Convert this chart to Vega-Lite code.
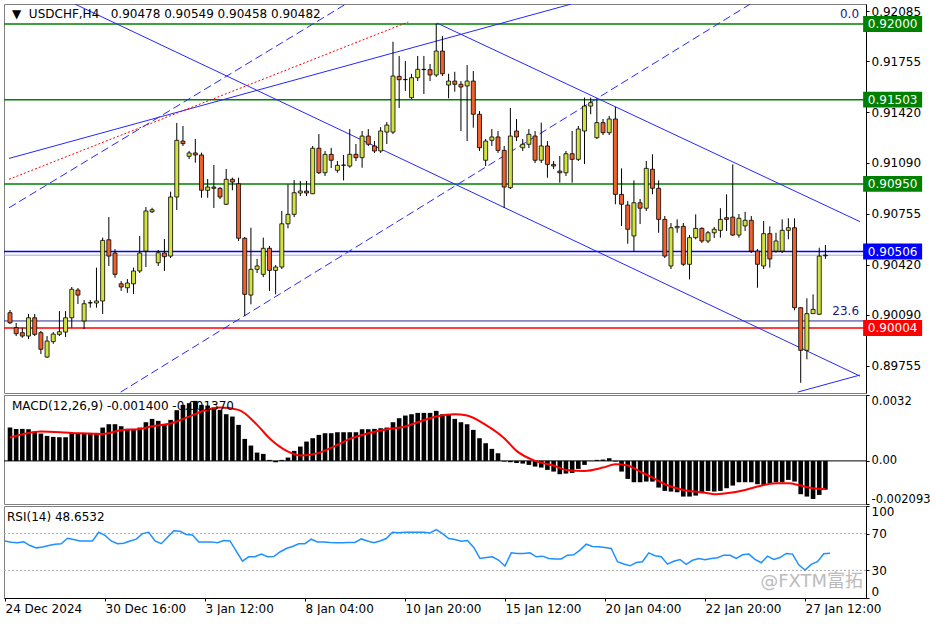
{
"$schema": "https://vega.github.io/schema/vega-lite/v6.json",
"background": "#ffffff",
"padding": {"left": 2, "top": 3, "right": 0, "bottom": 0},
"spacing": 2,
"bounds": "flush",
"datasets": {
"bars": [
{"i":0,"o":0.90104,"h":0.90122,"l":0.9003,"c":0.90038,"m":0.001619,"r":62},
{"i":1,"o":0.90006,"h":0.90037,"l":0.89951,"c":0.89966,"m":0.001554,"r":60.5},
{"i":2,"o":0.89973,"h":0.90006,"l":0.8994,"c":0.89951,"m":0.001554,"r":60},
{"i":3,"o":0.89951,"h":0.90096,"l":0.89931,"c":0.90071,"m":0.001538,"r":61},
{"i":4,"o":0.90071,"h":0.90096,"l":0.89951,"c":0.89962,"m":0.001425,"r":57},
{"i":5,"o":0.89973,"h":0.89984,"l":0.89833,"c":0.89864,"m":0.001328,"r":54.5},
{"i":6,"o":0.89813,"h":0.89951,"l":0.89807,"c":0.89918,"m":0.001214,"r":55.5},
{"i":7,"o":0.89914,"h":0.89977,"l":0.899,"c":0.89964,"m":0.001166,"r":57},
{"i":8,"o":0.89962,"h":0.90115,"l":0.89951,"c":0.89979,"m":0.001149,"r":58.5},
{"i":9,"o":0.89977,"h":0.90115,"l":0.89944,"c":0.90071,"m":0.001149,"r":59},
{"i":10,"o":0.90071,"h":0.90273,"l":0.90006,"c":0.90258,"m":0.00136,"r":65},
{"i":11,"o":0.90253,"h":0.90266,"l":0.90161,"c":0.9022,"m":0.00136,"r":63.5},
{"i":12,"o":0.9005,"h":0.90187,"l":0.89997,"c":0.90163,"m":0.00136,"r":62},
{"i":13,"o":0.9017,"h":0.90187,"l":0.90137,"c":0.90168,"m":0.00136,"r":62},
{"i":14,"o":0.90168,"h":0.904,"l":0.90137,"c":0.90181,"m":0.00136,"r":62},
{"i":15,"o":0.90181,"h":0.90597,"l":0.90096,"c":0.90579,"m":0.001619,"r":71.4},
{"i":16,"o":0.90583,"h":0.90732,"l":0.90411,"c":0.90476,"m":0.001781,"r":68},
{"i":17,"o":0.90496,"h":0.90522,"l":0.90334,"c":0.90356,"m":0.001781,"r":62},
{"i":18,"o":0.90294,"h":0.90312,"l":0.90247,"c":0.90273,"m":0.001684,"r":59},
{"i":19,"o":0.90268,"h":0.90325,"l":0.90235,"c":0.90299,"m":0.001554,"r":59.5},
{"i":20,"o":0.90294,"h":0.904,"l":0.90227,"c":0.90378,"m":0.001554,"r":62},
{"i":21,"o":0.90378,"h":0.90608,"l":0.90365,"c":0.90496,"m":0.001619,"r":64},
{"i":22,"o":0.90509,"h":0.90798,"l":0.90404,"c":0.90772,"m":0.001878,"r":70},
{"i":23,"o":0.90767,"h":0.90793,"l":0.90759,"c":0.9078,"m":0.00204,"r":71.4},
{"i":24,"o":0.90432,"h":0.90516,"l":0.90411,"c":0.90498,"m":0.001943,"r":62},
{"i":25,"o":0.90496,"h":0.90588,"l":0.90378,"c":0.90472,"m":0.001781,"r":59},
{"i":26,"o":0.90476,"h":0.90899,"l":0.90463,"c":0.90864,"m":0.001991,"r":66},
{"i":27,"o":0.90864,"h":0.9135,"l":0.90778,"c":0.91236,"m":0.002461,"r":73},
{"i":28,"o":0.91231,"h":0.9133,"l":0.91199,"c":0.91214,"m":0.00272,"r":72.5},
{"i":29,"o":0.91131,"h":0.91166,"l":0.91113,"c":0.91153,"m":0.002801,"r":69},
{"i":30,"o":0.91153,"h":0.91245,"l":0.91089,"c":0.9114,"m":0.002914,"r":68.5},
{"i":31,"o":0.9114,"h":0.91155,"l":0.90859,"c":0.90908,"m":0.00272,"r":61},
{"i":32,"o":0.90908,"h":0.90982,"l":0.90859,"c":0.90929,"m":0.002688,"r":61},
{"i":33,"o":0.90929,"h":0.91074,"l":0.90792,"c":0.90921,"m":0.00259,"r":61},
{"i":34,"o":0.90921,"h":0.90929,"l":0.90851,"c":0.90864,"m":0.002477,"r":60},
{"i":35,"o":0.90816,"h":0.91048,"l":0.90811,"c":0.9098,"m":0.002267,"r":62.5},
{"i":36,"o":0.9098,"h":0.90991,"l":0.90908,"c":0.90962,"m":0.002153,"r":62},
{"i":37,"o":0.90951,"h":0.90991,"l":0.90575,"c":0.90593,"m":0.001749,"r":51},
{"i":38,"o":0.90593,"h":0.90601,"l":0.90082,"c":0.90225,"m":0.001069,"r":40},
{"i":39,"o":0.9022,"h":0.90662,"l":0.90159,"c":0.90389,"m":0.000745,"r":44.8},
{"i":40,"o":0.90389,"h":0.90457,"l":0.90365,"c":0.90411,"m":0.000405,"r":44.8},
{"i":41,"o":0.90356,"h":0.90597,"l":0.90338,"c":0.90527,"m":0.00034,"r":47.7},
{"i":42,"o":0.90527,"h":0.90542,"l":0.90247,"c":0.90382,"m":0.000049,"r":44.8},
{"i":43,"o":0.90382,"h":0.90417,"l":0.90225,"c":0.90404,"m":-0.000065,"r":45},
{"i":44,"o":0.90404,"h":0.90772,"l":0.90391,"c":0.90688,"m":0.000049,"r":50},
{"i":45,"o":0.90688,"h":0.90947,"l":0.90658,"c":0.9075,"m":0.000162,"r":53.8},
{"i":46,"o":0.9075,"h":0.90975,"l":0.90732,"c":0.90892,"m":0.000486,"r":56},
{"i":47,"o":0.9089,"h":0.90969,"l":0.9087,"c":0.90903,"m":0.000696,"r":59},
{"i":48,"o":0.90903,"h":0.90969,"l":0.9087,"c":0.9089,"m":0.000939,"r":59},
{"i":49,"o":0.90885,"h":0.91199,"l":0.90883,"c":0.91184,"m":0.001101,"r":63.9},
{"i":50,"o":0.91184,"h":0.91277,"l":0.91015,"c":0.91023,"m":0.001263,"r":61},
{"i":51,"o":0.91023,"h":0.91166,"l":0.91002,"c":0.91144,"m":0.001344,"r":61},
{"i":52,"o":0.91144,"h":0.91187,"l":0.91054,"c":0.91105,"m":0.001344,"r":60.3},
{"i":53,"o":0.91039,"h":0.911,"l":0.91023,"c":0.91072,"m":0.001392,"r":60},
{"i":54,"o":0.91072,"h":0.9114,"l":0.90973,"c":0.91074,"m":0.001392,"r":60},
{"i":55,"o":0.91067,"h":0.9131,"l":0.91056,"c":0.91144,"m":0.001392,"r":60.3},
{"i":56,"o":0.91144,"h":0.91212,"l":0.911,"c":0.91122,"m":0.001392,"r":60.3},
{"i":57,"o":0.91122,"h":0.91297,"l":0.91056,"c":0.91264,"m":0.001538,"r":64.2},
{"i":58,"o":0.91264,"h":0.9131,"l":0.91199,"c":0.9121,"m":0.001538,"r":62},
{"i":59,"o":0.91199,"h":0.91231,"l":0.91153,"c":0.91166,"m":0.001554,"r":60},
{"i":60,"o":0.91166,"h":0.91323,"l":0.91153,"c":0.91297,"m":0.001587,"r":62},
{"i":61,"o":0.9129,"h":0.91356,"l":0.91212,"c":0.91336,"m":0.001619,"r":64.6},
{"i":62,"o":0.9129,"h":0.91883,"l":0.91277,"c":0.91658,"m":0.001878,"r":71.4},
{"i":63,"o":0.91656,"h":0.9179,"l":0.91448,"c":0.91634,"m":0.002072,"r":71},
{"i":64,"o":0.91634,"h":0.91757,"l":0.9156,"c":0.91636,"m":0.002202,"r":71.4},
{"i":65,"o":0.91516,"h":0.91672,"l":0.91507,"c":0.91647,"m":0.002267,"r":71.4},
{"i":66,"o":0.91647,"h":0.9179,"l":0.91625,"c":0.91702,"m":0.002331,"r":71.4},
{"i":67,"o":0.91702,"h":0.9179,"l":0.9154,"c":0.917,"m":0.002331,"r":71.4},
{"i":68,"o":0.917,"h":0.91737,"l":0.91625,"c":0.91665,"m":0.002331,"r":70.7},
{"i":69,"o":0.91665,"h":0.92002,"l":0.91652,"c":0.91822,"m":0.002429,"r":74.3},
{"i":70,"o":0.91822,"h":0.91921,"l":0.91658,"c":0.91673,"m":0.002267,"r":70},
{"i":71,"o":0.91599,"h":0.91673,"l":0.91512,"c":0.91625,"m":0.002234,"r":64.6},
{"i":72,"o":0.91625,"h":0.91686,"l":0.91555,"c":0.91604,"m":0.00204,"r":63.5},
{"i":73,"o":0.91604,"h":0.91625,"l":0.91297,"c":0.91586,"m":0.001878,"r":61.7},
{"i":74,"o":0.91593,"h":0.9173,"l":0.91231,"c":0.91625,"m":0.001781,"r":62.5},
{"i":75,"o":0.91625,"h":0.91691,"l":0.91319,"c":0.91407,"m":0.001506,"r":55},
{"i":76,"o":0.91407,"h":0.91428,"l":0.91166,"c":0.91187,"m":0.001101,"r":43},
{"i":77,"o":0.91105,"h":0.91245,"l":0.91067,"c":0.91231,"m":0.000858,"r":44},
{"i":78,"o":0.91236,"h":0.9131,"l":0.91199,"c":0.91258,"m":0.000583,"r":44.8},
{"i":79,"o":0.91258,"h":0.91297,"l":0.91153,"c":0.9117,"m":0.000372,"r":41},
{"i":80,"o":0.9117,"h":0.91199,"l":0.90792,"c":0.90929,"m":-0.000032,"r":34.7},
{"i":81,"o":0.90925,"h":0.91448,"l":0.90916,"c":0.91264,"m":-0.000065,"r":49.1},
{"i":82,"o":0.91297,"h":0.91376,"l":0.91231,"c":0.91258,"m":-0.000097,"r":48.5},
{"i":83,"o":0.91187,"h":0.91245,"l":0.91166,"c":0.9121,"m":-0.00013,"r":48.4},
{"i":84,"o":0.9121,"h":0.9131,"l":0.91185,"c":0.91275,"m":-0.000194,"r":49.1},
{"i":85,"o":0.91264,"h":0.91297,"l":0.91087,"c":0.91105,"m":-0.000275,"r":44.8},
{"i":86,"o":0.91105,"h":0.91352,"l":0.91087,"c":0.91199,"m":-0.000324,"r":45.5},
{"i":87,"o":0.91199,"h":0.91231,"l":0.9099,"c":0.91078,"m":-0.000437,"r":43},
{"i":88,"o":0.91078,"h":0.911,"l":0.91048,"c":0.91067,"m":-0.000518,"r":42.3},
{"i":89,"o":0.91034,"h":0.91133,"l":0.90958,"c":0.91023,"m":-0.000648,"r":42.5},
{"i":90,"o":0.91023,"h":0.91166,"l":0.91002,"c":0.91148,"m":-0.000615,"r":46.6},
{"i":91,"o":0.91148,"h":0.91297,"l":0.90958,"c":0.91111,"m":-0.000583,"r":47},
{"i":92,"o":0.91111,"h":0.9133,"l":0.911,"c":0.9131,"m":-0.000389,"r":52},
{"i":93,"o":0.91297,"h":0.91516,"l":0.9108,"c":0.91461,"m":-0.000194,"r":58.5},
{"i":94,"o":0.91461,"h":0.91516,"l":0.91407,"c":0.91483,"m":-0.00001,"r":56},
{"i":95,"o":0.91253,"h":0.91505,"l":0.91245,"c":0.91352,"m":0.000049,"r":55.6},
{"i":96,"o":0.91352,"h":0.91376,"l":0.91271,"c":0.91286,"m":0.000065,"r":55},
{"i":97,"o":0.91286,"h":0.91396,"l":0.91271,"c":0.91376,"m":0.00013,"r":53.8},
{"i":98,"o":0.91376,"h":0.91455,"l":0.90816,"c":0.90881,"m":-0.000032,"r":39.4},
{"i":99,"o":0.90881,"h":0.91052,"l":0.90673,"c":0.90816,"m":-0.000518,"r":37},
{"i":100,"o":0.90811,"h":0.90837,"l":0.90557,"c":0.90652,"m":-0.000874,"r":35},
{"i":101,"o":0.90608,"h":0.90973,"l":0.90509,"c":0.90826,"m":-0.001036,"r":38.5},
{"i":102,"o":0.90826,"h":0.90851,"l":0.90686,"c":0.9079,"m":-0.001036,"r":39.4},
{"i":103,"o":0.9079,"h":0.911,"l":0.90772,"c":0.91052,"m":-0.001004,"r":49.1},
{"i":104,"o":0.91046,"h":0.91144,"l":0.90882,"c":0.90921,"m":-0.001004,"r":46},
{"i":105,"o":0.90921,"h":0.90973,"l":0.90629,"c":0.90717,"m":-0.001295,"r":44.8},
{"i":106,"o":0.90717,"h":0.90739,"l":0.90463,"c":0.90476,"m":-0.001457,"r":36.8},
{"i":107,"o":0.90411,"h":0.90693,"l":0.90391,"c":0.90662,"m":-0.001489,"r":40},
{"i":108,"o":0.90662,"h":0.90717,"l":0.90629,"c":0.90671,"m":-0.001522,"r":41.9},
{"i":109,"o":0.90671,"h":0.90693,"l":0.90411,"c":0.90422,"m":-0.001732,"r":36.5},
{"i":110,"o":0.90422,"h":0.90614,"l":0.90323,"c":0.90597,"m":-0.001732,"r":41},
{"i":111,"o":0.90597,"h":0.9075,"l":0.90586,"c":0.90658,"m":-0.001684,"r":43},
{"i":112,"o":0.90658,"h":0.90665,"l":0.90562,"c":0.90575,"m":-0.00157,"r":41.5},
{"i":113,"o":0.90575,"h":0.90641,"l":0.90562,"c":0.90629,"m":-0.001457,"r":43},
{"i":114,"o":0.90629,"h":0.90667,"l":0.90595,"c":0.90652,"m":-0.001489,"r":43.7},
{"i":115,"o":0.90645,"h":0.9079,"l":0.90597,"c":0.90717,"m":-0.001457,"r":46.6},
{"i":116,"o":0.90728,"h":0.90881,"l":0.90641,"c":0.90717,"m":-0.001328,"r":46.5},
{"i":117,"o":0.90732,"h":0.91078,"l":0.90608,"c":0.90614,"m":-0.001198,"r":43},
{"i":118,"o":0.90614,"h":0.90752,"l":0.90597,"c":0.90724,"m":-0.001036,"r":47},
{"i":119,"o":0.90674,"h":0.90767,"l":0.90641,"c":0.90711,"m":-0.001036,"r":47.7},
{"i":120,"o":0.90711,"h":0.90739,"l":0.90496,"c":0.90509,"m":-0.001036,"r":42},
{"i":121,"o":0.90509,"h":0.90522,"l":0.90268,"c":0.90422,"m":-0.001133,"r":38.3},
{"i":122,"o":0.90411,"h":0.90706,"l":0.90391,"c":0.90623,"m":-0.001166,"r":45.5},
{"i":123,"o":0.90623,"h":0.90671,"l":0.904,"c":0.90457,"m":-0.001085,"r":42},
{"i":124,"o":0.90509,"h":0.90629,"l":0.90498,"c":0.90575,"m":-0.001036,"r":44},
{"i":125,"o":0.90509,"h":0.90717,"l":0.90496,"c":0.90645,"m":-0.001036,"r":48.4},
{"i":126,"o":0.90645,"h":0.90724,"l":0.90586,"c":0.90662,"m":-0.000923,"r":47.7},
{"i":127,"o":0.90662,"h":0.90724,"l":0.9012,"c":0.90137,"m":-0.001004,"r":36},
{"i":128,"o":0.90137,"h":0.90141,"l":0.89644,"c":0.89857,"m":-0.001619,"r":30.4},
{"i":129,"o":0.89857,"h":0.90199,"l":0.89798,"c":0.90098,"m":-0.001732,"r":36.5},
{"i":130,"o":0.90098,"h":0.90225,"l":0.90096,"c":0.90126,"m":-0.001846,"r":39.4},
{"i":131,"o":0.90094,"h":0.90531,"l":0.90089,"c":0.90476,"m":-0.001651,"r":48},
{"i":132,"o":0.90478,"h":0.90549,"l":0.90458,"c":0.90482,"m":-0.0014,"r":48.65}
],
"sig": [
{"i":0,"s":0.001133},{"i":5,"s":0.001425},{"i":10,"s":0.00136},{"i":15,"s":0.001311},{"i":18,"s":0.001489},{"i":21,"s":0.001554},{"i":23,"s":0.001684},{"i":26,"s":0.001813},{"i":29,"s":0.002153},{"i":31,"s":0.002396},{"i":34,"s":0.00259},{"i":37,"s":0.002477},{"i":40,"s":0.001749},{"i":42,"s":0.001101},{"i":45,"s":0.000453},{"i":47,"s":0.000259},{"i":50,"s":0.000389},{"i":53,"s":0.000777},{"i":55,"s":0.001069},{"i":58,"s":0.001344},{"i":61,"s":0.001538},{"i":64,"s":0.001668},{"i":66,"s":0.001878},{"i":69,"s":0.002153},{"i":72,"s":0.002267},{"i":74,"s":0.002202},{"i":77,"s":0.001749},{"i":80,"s":0.001101},{"i":82,"s":0.000486},{"i":85,"s":0},{"i":88,"s":-0.000227},{"i":90,"s":-0.000437},{"i":93,"s":-0.000486},{"i":96,"s":-0.000324},{"i":98,"s":-0.000162},{"i":100,"s":-0.000227},{"i":102,"s":-0.000518},{"i":104,"s":-0.00081},{"i":106,"s":-0.001133},{"i":109,"s":-0.001409},{"i":112,"s":-0.001522},{"i":114,"s":-0.001619},{"i":116,"s":-0.00157},{"i":119,"s":-0.001409},{"i":121,"s":-0.001247},{"i":124,"s":-0.001085},{"i":126,"s":-0.001085},{"i":128,"s":-0.001198},{"i":130,"s":-0.001328},{"i":132,"s":-0.00137}
],
"lv": [
{"p":0.92,"k":"g","t":"0.92000"},
{"p":0.91503,"k":"g","t":"0.91503"},
{"p":0.9095,"k":"g","t":"0.90950"},
{"p":0.90506,"k":"b","t":"0.90506"},
{"p":0.90004,"k":"r","t":"0.90004"}
],
"fib": [
{"p":0.92,"t":"0.0"},
{"p":0.9005,"t":"23.6"}
],
"tlSolid": [
{"id":"A","i":10.53,"p":0.9213},{"id":"A","i":137.6,"p":0.89688},
{"id":"B","i":127.52,"p":0.89583},{"id":"B","i":137.6,"p":0.89695},
{"id":"C","i":69.12,"p":0.92006},{"id":"C","i":137.6,"p":0.90702},
{"id":"D","i":-0.16,"p":0.91117},{"id":"D","i":90.8,"p":0.9213}
],
"tlDash": [
{"id":"F","i":-0.16,"p":0.90793},{"id":"F","i":54.34,"p":0.9213},
{"id":"G","i":17.92,"p":0.89583},{"id":"G","i":119.8,"p":0.9213}
],
"tlDot": [
{"id":"E","i":-0.16,"p":0.9098},{"id":"E","i":64.48,"p":0.92013}
]
},
"vconcat": [
{
"width": 862, "height": 389,
"resolve": {"axis": {"x": "independent", "y": "independent"}},
"layer": [
{"data":{"name":"lv"},"mark":{"type":"rule","strokeWidth":1.5},
 "encoding":{
  "y":{"field":"p","type":"quantitative","scale":{"domain":[0.89577,0.92131],"nice":false,"zero":false},
   "axis":{"orient":"right","values":[0.92085,0.91755,0.9142,0.9109,0.90755,0.9042,0.9009,0.89755],"format":".5f","title":null}},
  "color":{"field":"k","type":"nominal","scale":{"domain":["g","b","r"],"range":["#008000","#0000ff","#ff0000"]},"legend":null}}},
{"data":{"values":[{"p":0.90482}]},"mark":{"type":"rule","color":"#a4a4d4","strokeWidth":1},
 "encoding":{"y":{"field":"p","type":"quantitative","scale":{"domain":[0.89577,0.92131],"nice":false,"zero":false},"axis":null}}},
{"data":{"name":"fib"},"transform":[{"filter":"datum.t == '23.6'"}],"mark":{"type":"rule","color":"#2a2a8c","strokeWidth":1},
 "encoding":{"y":{"field":"p","type":"quantitative","scale":{"domain":[0.89577,0.92131],"nice":false,"zero":false},"axis":null}}},
{"data":{"name":"tlSolid"},"mark":{"type":"line","clip":true,"color":"#2626ff","strokeWidth":1},
 "encoding":{
  "x":{"field":"i","type":"quantitative","scale":{"domain":[-0.16,137.76],"nice":false,"zero":false},"axis":null},
  "y":{"field":"p","type":"quantitative","scale":{"domain":[0.89577,0.92131],"nice":false,"zero":false},"axis":null},
  "detail":{"field":"id"}}},
{"data":{"name":"tlDash"},"mark":{"type":"line","clip":true,"color":"#2626ff","strokeWidth":1,"strokeDash":[8,4]},
 "encoding":{
  "x":{"field":"i","type":"quantitative","scale":{"domain":[-0.16,137.76],"nice":false,"zero":false},"axis":null},
  "y":{"field":"p","type":"quantitative","scale":{"domain":[0.89577,0.92131],"nice":false,"zero":false},"axis":null},
  "detail":{"field":"id"}}},
{"data":{"name":"tlDot"},"mark":{"type":"line","clip":true,"color":"#ff0000","strokeWidth":1,"strokeDash":[2,2]},
 "encoding":{
  "x":{"field":"i","type":"quantitative","scale":{"domain":[-0.16,137.76],"nice":false,"zero":false},"axis":null},
  "y":{"field":"p","type":"quantitative","scale":{"domain":[0.89577,0.92131],"nice":false,"zero":false},"axis":null},
  "detail":{"field":"id"}}},
{"data":{"name":"bars"},"mark":{"type":"rule","color":"#000000","strokeWidth":1,"clip":true},
 "encoding":{
  "x":{"field":"i","type":"quantitative","scale":{"domain":[-0.16,137.76],"nice":false,"zero":false},"axis":null},
  "y":{"field":"l","type":"quantitative","scale":{"domain":[0.89577,0.92131],"nice":false,"zero":false},"axis":null},
  "y2":{"field":"h"}}},
{"data":{"name":"bars"},"mark":{"type":"bar","size":4,"stroke":"#000000","strokeWidth":0.8,"clip":true},
 "encoding":{
  "x":{"field":"i","type":"quantitative","scale":{"domain":[-0.16,137.76],"nice":false,"zero":false},"axis":null},
  "y":{"field":"o","type":"quantitative","scale":{"domain":[0.89577,0.92131],"nice":false,"zero":false},"axis":null},
  "y2":{"field":"c"},
  "color":{"condition":{"test":"datum.c >= datum.o","value":"#d2e23e"},"value":"#f0602a"}}},
{"data":{"name":"lv"},"mark":{"type":"point","shape":"M-1,-0.27H1V0.27H-1Z","size":3481,"filled":true,"opacity":1},
 "encoding":{
  "x":{"datum":142.88,"type":"quantitative","scale":{"domain":[-0.16,137.76],"nice":false,"zero":false},"axis":null},
  "y":{"field":"p","type":"quantitative","scale":{"domain":[0.89577,0.92131],"nice":false,"zero":false},"axis":null},
  "color":{"field":"k","type":"nominal","scale":{"domain":["g","b","r"],"range":["#008000","#0000ff","#ff0000"]},"legend":null}}},
{"data":{"name":"lv"},"mark":{"type":"text","color":"#ffffff","align":"center","baseline":"middle","fontSize":12},
 "encoding":{
  "x":{"datum":142.88,"type":"quantitative","scale":{"domain":[-0.16,137.76],"nice":false,"zero":false},"axis":null},
  "y":{"field":"p","type":"quantitative","scale":{"domain":[0.89577,0.92131],"nice":false,"zero":false},"axis":null},
  "text":{"field":"t"}}},
{"data":{"name":"fib"},"mark":{"type":"text","color":"#1a1a80","align":"right","baseline":"middle","fontSize":12,"dy":-10},
 "encoding":{
  "x":{"datum":137.44,"type":"quantitative","scale":{"domain":[-0.16,137.76],"nice":false,"zero":false},"axis":null},
  "y":{"field":"p","type":"quantitative","scale":{"domain":[0.89577,0.92131],"nice":false,"zero":false},"axis":null},
  "text":{"field":"t"}}},
{"data":{"values":[{"t":"▼ \u00a0USDCHF,H4\u00a0\u00a0 0.90478 0.90549 0.90458 0.90482"}]},"mark":{"type":"text","align":"left","baseline":"middle","fontSize":12,"color":"#000000","dx":3,"dy":10},
 "encoding":{
  "x":{"datum":-0.16,"type":"quantitative","scale":{"domain":[-0.16,137.76],"nice":false,"zero":false},"axis":null},
  "y":{"datum":0.92131,"type":"quantitative","scale":{"domain":[0.89577,0.92131],"nice":false,"zero":false},"axis":null},
  "text":{"field":"t"}}}
]
},
{
"width": 862, "height": 109,
"resolve": {"axis": {"x": "independent", "y": "independent"}},
"layer": [
{"data":{"values":[{"v":0}]},"mark":{"type":"rule","color":"#000000","strokeWidth":1},
 "encoding":{"y":{"field":"v","type":"quantitative","scale":{"domain":[-0.002093,0.0032],"nice":false,"zero":false},
  "axis":{"orient":"right","values":[0.0032,0,-0.002093],"labelFlush":true,"labelOverlap":false,"labelFontSize":11.5,"labelExpr":"datum.value == 0 ? '0.00' : (datum.value > 0 ? '0.0032' : '-0.002093')","title":null}}}},
{"data":{"name":"bars"},"mark":{"type":"bar","size":4.6,"color":"#000000","clip":true},
 "encoding":{
  "x":{"field":"i","type":"quantitative","scale":{"domain":[-0.16,137.76],"nice":false,"zero":false},"axis":null},
  "y":{"field":"m","type":"quantitative","scale":{"domain":[-0.002093,0.0032],"nice":false,"zero":false},"axis":null},
  "y2":{"datum":0}}},
{"data":{"name":"sig"},"mark":{"type":"line","color":"#ff0000","strokeWidth":2,"interpolate":"monotone","clip":true},
 "encoding":{
  "x":{"field":"i","type":"quantitative","scale":{"domain":[-0.16,137.76],"nice":false,"zero":false},"axis":null},
  "y":{"field":"s","type":"quantitative","scale":{"domain":[-0.002093,0.0032],"nice":false,"zero":false},"axis":null}}},
{"data":{"values":[{"t":"MACD(12,26,9) -0.001400 -0.001370"}]},"mark":{"type":"text","align":"left","baseline":"middle","fontSize":12,"color":"#000000","dx":3,"dy":11},
 "encoding":{
  "x":{"datum":-0.16,"type":"quantitative","scale":{"domain":[-0.16,137.76],"nice":false,"zero":false},"axis":null},
  "y":{"datum":0.0032,"type":"quantitative","scale":{"domain":[-0.002093,0.0032],"nice":false,"zero":false},"axis":null},
  "text":{"field":"t"}}}
]
},
{
"width": 862, "height": 92,
"resolve": {"axis": {"x": "independent", "y": "independent"}},
"layer": [
{"data":{"values":[{"v":70},{"v":30}]},"mark":{"type":"rule","color":"#b0b0b0","strokeWidth":1,"strokeDash":[2,2]},
 "encoding":{"y":{"field":"v","type":"quantitative","scale":{"domain":[0,100],"nice":false,"zero":false},
  "axis":{"orient":"right","values":[100,70,30,0],"labelFlush":true,"labelOverlap":false,"title":null}}}},
{"data":{"name":"bars"},"mark":{"type":"line","color":"#1e90ff","strokeWidth":1.5,"clip":true},
 "encoding":{
  "x":{"field":"i","type":"quantitative","scale":{"domain":[-0.16,137.76],"nice":false,"zero":false},
   "axis":{"values":[0,16,32,48,64,80,96,112,128],"labelAlign":"left","labelFlush":false,"labelOverlap":false,"title":null,
    "labelExpr":"['24 Dec 2024','30 Dec 16:00','3 Jan 12:00','8 Jan 04:00','10 Jan 20:00','15 Jan 12:00','20 Jan 04:00','22 Jan 20:00','27 Jan 12:00'][round(datum.value/16)]"}},
  "y":{"field":"r","type":"quantitative","scale":{"domain":[0,100],"nice":false,"zero":false},"axis":null}}},
{"data":{"values":[{"t":"RSI(14) 48.6532"}]},"mark":{"type":"text","align":"left","baseline":"middle","fontSize":12,"color":"#000000","dx":3,"dy":11},
 "encoding":{
  "x":{"datum":-0.16,"type":"quantitative","scale":{"domain":[-0.16,137.76],"nice":false,"zero":false},"axis":null},
  "y":{"datum":100,"type":"quantitative","scale":{"domain":[0,100],"nice":false,"zero":false},"axis":null},
  "text":{"field":"t"}}},
{"data":{"values":[{"t":"@FXTM富拓"}]},"mark":{"type":"text","align":"right","baseline":"middle","fontSize":18,"color":"#bcbcbc","font":"DejaVu Sans, Noto Sans CJK SC"},
 "encoding":{
  "x":{"datum":137.3,"type":"quantitative","scale":{"domain":[-0.16,137.76],"nice":false,"zero":false},"axis":null},
  "y":{"datum":17,"type":"quantitative","scale":{"domain":[0,100],"nice":false,"zero":false},"axis":null},
  "text":{"field":"t"}}}
]
}
],
"config": {
 "font": "DejaVu Sans",
 "view": {"stroke": "#808080"},
 "axis": {"labelFont": "DejaVu Sans", "labelFontSize": 12, "labelColor": "#000000", "tickColor": "#000000", "domainColor": "#000000", "grid": false, "tickSize": 3, "labelPadding": 2},
 "text": {"font": "DejaVu Sans", "fontSize": 12}
}
}
